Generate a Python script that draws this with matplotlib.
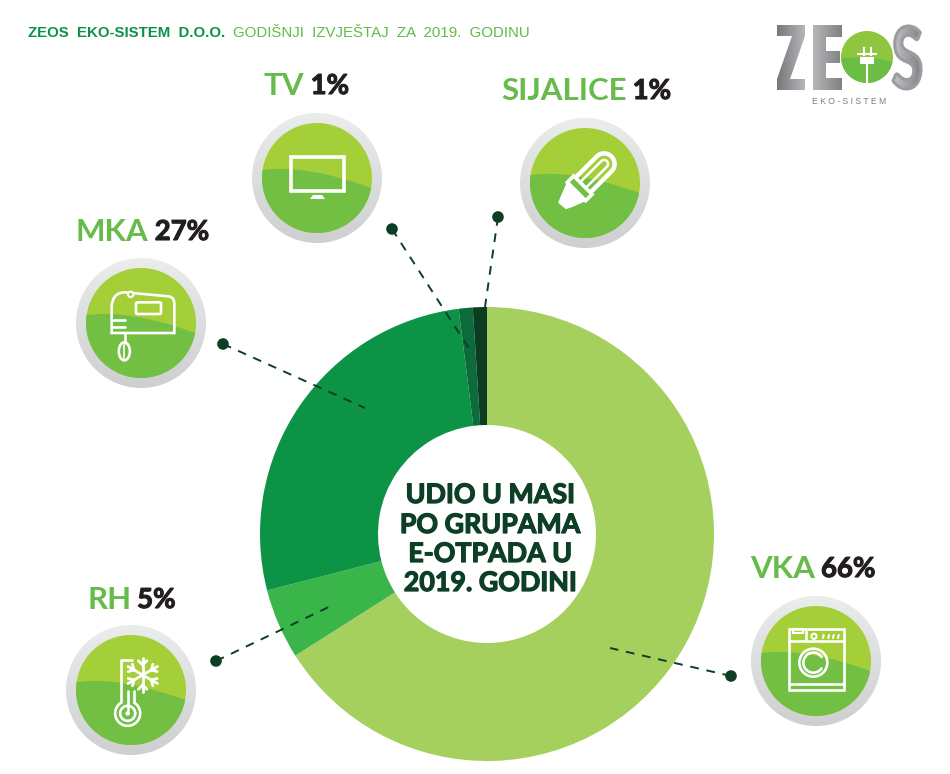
import numpy as np
import matplotlib
matplotlib.use('Agg')
import matplotlib.pyplot as plt
import matplotlib.patheffects as pe
from matplotlib.patches import Circle, Ellipse, PathPatch, Rectangle, FancyBboxPatch, Polygon
from matplotlib.path import Path
from matplotlib.textpath import TextPath
from matplotlib.font_manager import FontProperties
from matplotlib.transforms import Affine2D

# udio u masi, redom od vrha u smjeru kazaljke
grupe = ['VKA', 'RH', 'MKA', 'TV', 'SIJALICE']
udio = [66, 5, 27, 1, 1]
boje = ['#a6d05e', '#39b54a', '#0c9346', '#0b6b3a', '#0a3d22']
naslov_bold = 'ZEOS  EKO-SISTEM  D.O.O.'
naslov_reg = 'GODIŠNJI  IZVJEŠTAJ  ZA  2019.  GODINU'
centar_tekst = ['UDIO U MASI', 'PO GRUPAMA', 'E-OTPADA U', '2019. GODINI']

W, H = 950, 774
TAMNA = '#0d3f26'
ZELENA = '#66bb4a'
CRNA = '#231f20'

fig = plt.figure(figsize=(W / 100, H / 100), dpi=100, facecolor='white')

# prsten, polozaj u pikselima
cx, cy, R = 487, 534, 227
ax_pie = fig.add_axes([(cx - R) / W, 1 - (cy + R) / H, 2 * R / W, 2 * R / H])
ax_pie.pie(udio, colors=boje, startangle=90, counterclock=False, radius=1,
           wedgeprops=dict(width=1 - 109 / 227, linewidth=0))
ax_pie.set_xlim(-1, 1)
ax_pie.set_ylim(-1, 1)
ax_pie.set_axis_off()

# sve ostalo ide na providni sloj u pikselima (y prema dolje)
ax = fig.add_axes([0, 0, 1, 1], facecolor='none')
ax.set_axis_off()
ax.set_xlim(0, W)
ax.set_ylim(H, 0)
ax.autoscale(False)


def gradijent(x0, y0, x1, y1, c_a, c_b, clip, smjer='v'):
    n = 64
    a = np.array(matplotlib.colors.to_rgb(c_a))
    b = np.array(matplotlib.colors.to_rgb(c_b))
    t = np.linspace(0, 1, n)[:, None]
    img = a * (1 - t) + b * t
    img = img[:, None, :] if smjer == 'v' else img[None, :, :]
    im = ax.imshow(img, extent=(x0, x1, y1, y0), aspect='auto', zorder=2, interpolation='bilinear')
    im.set_clip_path(clip)


def bedz(x, y, r_out=65, r_in=55):
    krug = Circle((x, y), r_out, transform=ax.transData)
    gradijent(x - r_out, y - r_out, x + r_out, y + r_out, '#ebecec', '#cdcfd1', krug)
    ax.add_patch(Circle((x, y), r_in, fc='#a5cf38', ec='none', zorder=3))
    # donji, tamniji dio kruga sa zakrivljenom granicom
    s = r_in / 55
    verts = [(x - 60 * s, y - 7 * s), (x - 15 * s, y - 16 * s), (x + 60 * s, y + 12 * s),
             (x + 60 * s, y + 60 * s), (x - 60 * s, y + 60 * s), (x - 60 * s, y - 7 * s)]
    codes = [Path.MOVETO, Path.CURVE3, Path.CURVE3, Path.LINETO, Path.LINETO, Path.CLOSEPOLY]
    donji = PathPatch(Path(verts, codes), fc='#72bf44', ec='none', zorder=4)
    ax.add_patch(donji)
    donji.set_clip_path(Circle((x, y), r_in, transform=ax.transData))


def linija(xs, ys, lw=1.9):
    ax.plot(xs, ys, color='white', lw=lw, zorder=6, solid_capstyle='round', solid_joinstyle='round')


def okvir(x0, y0, x1, y1, lw=1.9, fc='none'):
    ax.add_patch(Rectangle((x0, y0), x1 - x0, y1 - y0, fc=fc, ec='white', lw=lw, zorder=6))


def ikona_tv(x, y):
    okvir(x - 26, y - 21, x + 27, y + 13, lw=2.6)
    ax.add_patch(Polygon([(x - 7, y + 21), (x - 4, y + 17), (x + 5, y + 17), (x + 8, y + 21)],
                         fc='white', ec='none', zorder=6))


def ikona_sijalica(x, y):
    rot = Affine2D().rotate_deg(-45).translate(x, y) + ax.transData
    # dvije cijevi
    for v0, v1, debljina in [(-10.5, 10.5, 3.2), (-4, 4, 1.8)]:
        t = np.linspace(-np.pi / 2, np.pi / 2, 20)
        u = np.r_[-2, 27 + (v1 - v0) / 2 * np.cos(t), -2]
        v = np.r_[v0, (v0 + v1) / 2 + (v1 - v0) / 2 * np.sin(t), v1]
        ax.plot(u, v, color='white', lw=debljina, zorder=6, transform=rot)
    ax.add_patch(Polygon([(-12, -13), (-3, -13), (-3, 13), (-12, 13)], fc='#72bf44', ec='white',
                         lw=2.6, zorder=6, transform=rot))
    ax.add_patch(Polygon([(-13, -13), (-13, 13), (-26, 8), (-32, 5), (-33, -5), (-26, -8)],
                         fc='white', ec='none', zorder=6, transform=rot))


def ikona_mikser(x, y):
    px = lambda a: x + (a - 243) / 3
    py = lambda b: y + (b - 370) / 3
    verts = [(px(155), py(400)), (px(155), py(320)), (px(158), py(278)), (px(195), py(278)),
             (px(325), py(290)), (px(343), py(292)), (px(343), py(312)),
             (px(343), py(400)), (px(155), py(400))]
    codes = [Path.MOVETO, Path.LINETO, Path.CURVE3, Path.CURVE3, Path.LINETO, Path.CURVE3,
             Path.CURVE3, Path.LINETO, Path.CLOSEPOLY]
    ax.add_patch(PathPatch(Path(verts, codes), fc='none', ec='white', lw=1.9, zorder=6))
    ax.add_patch(FancyBboxPatch((px(228), py(308)), 75 / 3, 35 / 3, boxstyle='round,pad=0,rounding_size=1.5',
                                fc='none', ec='white', lw=1.9, zorder=6))
    linija([px(155), px(195)], [py(362), py(362)])
    linija([px(155), px(195)], [py(382), py(382)])
    linija([px(195), px(195)], [py(400), py(430)])
    ax.add_patch(Ellipse((px(193), py(455)), 11, 18, fc='none', ec='white', lw=1.9, zorder=6))
    linija([px(193), px(193)], [py(435), py(475)], lw=1.2)
    ax.add_patch(Circle((px(212), py(284)), 2.7, fc='#a5cf38', ec='white', lw=1.5, zorder=6))


def ikona_frizider(x, y):
    px = lambda a: x + (a - 243) / 3
    py = lambda b: y + (b - 360) / 3
    bx, by = px(233), py(430)
    t = np.radians(np.linspace(-58, 238, 60))
    linija(bx + 12.5 * np.cos(t), by + 12.5 * np.sin(t))
    t2 = np.radians(np.linspace(0, 360, 60))
    linija(bx + 7.5 * np.cos(t2), by + 7.5 * np.sin(t2))
    ax.add_patch(Circle((bx, by), 2.3, fc='white', ec='none', zorder=6))
    linija([px(212), px(212), px(245)], [py(397), py(270), py(270)])
    linija([px(252), px(252)], [py(397), py(362)])
    linija([bx, bx], [by - 3, py(362)])
    # pahulja
    sx, sy = px(278), py(315)
    for ugao in range(0, 360, 60):
        c, s = np.cos(np.radians(ugao + 90)), np.sin(np.radians(ugao + 90))
        linija([sx, sx + 17 * c], [sy, sy + 17 * s], lw=2)
        for d in (-1, 1):
            c2, s2 = np.cos(np.radians(ugao + 90 + d * 45)), np.sin(np.radians(ugao + 90 + d * 45))
            linija([sx + 10 * c, sx + 10 * c + 6 * c2], [sy + 10 * s, sy + 10 * s + 6 * s2], lw=2)


def ikona_masina(x, y):
    px = lambda a: x + (a - 258) / 3
    py = lambda b: y + (b - 362) / 3
    okvir(px(178), py(267), px(343), py(450))
    linija([px(178), px(343)], [py(302), py(302)])
    linija([px(228), px(228)], [py(267), py(302)])
    okvir(px(190), py(267), px(218), py(277), lw=1.5)
    ax.add_patch(Circle((px(252), py(288)), 2.6, fc='none', ec='white', lw=1.5, zorder=6))
    for d in (280, 296, 310, 325):
        linija([px(d - 1), px(d + 1)], [py(293), py(284)], lw=1.5)
    ax.add_patch(Circle((px(250), py(367)), 14, fc='none', ec='white', lw=1.9, zorder=6))
    t = np.radians(np.linspace(35, 325, 40))
    linija(px(250) + 10 * np.cos(t), py(367) + 10 * np.sin(t))
    linija([px(178), px(343)], [py(432), py(432)])


def natpis(x, y, ime, broj, size=22.5):
    t = ax.text(x, y, ime, color=ZELENA, fontsize=size, family='Lato', fontweight='bold',
                va='center', ha='left', zorder=7)
    bb = t.get_window_extent(fig.canvas.get_renderer())
    n = ax.text(bb.x1 + 6, y, broj, color=CRNA, fontsize=size - 2.7, family='Lato', fontweight='bold',
                va='center', ha='left', zorder=7)
    n.set_path_effects([pe.withStroke(linewidth=0.8, foreground=CRNA)])


def maska(put, x0, y0, x1, y1, c_a, c_b):
    # sivi gradijent odsjecen po obliku slova
    patch = PathPatch(put, fc='none', ec='none', transform=ax.transData)
    ax.add_patch(patch)
    gradijent(x0, y0, x1, y1, c_a, c_b, patch, smjer='h')


# bedzevi
polozaji = {'TV': (317, 178), 'SIJALICE': (585, 183), 'MKA': (141, 323), 'RH': (131, 690), 'VKA': (816, 661)}
ikone = {'TV': ikona_tv, 'SIJALICE': ikona_sijalica, 'MKA': ikona_mikser, 'RH': ikona_frizider, 'VKA': ikona_masina}
for g in grupe:
    bedz(*polozaji[g])
    ikone[g](*polozaji[g])

# natpisi
nat_poz = {'TV': (264, 86), 'SIJALICE': (501, 91), 'MKA': (76, 232), 'RH': (87, 600), 'VKA': (750, 569)}
for g, u in zip(grupe, udio):
    natpis(nat_poz[g][0], nat_poz[g][1], g, f'{u}%')

# isprekidane linije s tackom
linije = {'TV': ((392, 229), (470, 350)), 'SIJALICE': ((498, 217), (485, 307)), 'MKA': ((223, 344), (365, 408)),
          'RH': ((216, 661), (335, 604)), 'VKA': ((731, 676), (610, 648))}
for g in grupe:
    (x0, y0), (x1, y1) = linije[g]
    ax.plot([x0, x1], [y0, y1], color=TAMNA, lw=1.4, dashes=(4.5, 4), zorder=5)
    ax.add_patch(Circle((x0, y0), 5.8, fc=TAMNA, ec='none', zorder=5))

# tekst u sredini
for red, yy in zip(centar_tekst, [495, 525, 554, 583]):
    c = ax.text(490, yy, red, color=TAMNA, fontsize=19.3, family='Lato', fontweight='bold',
                ha='center', va='center', zorder=7)
    c.set_path_effects([pe.withStroke(linewidth=0.9, foreground=TAMNA)])

# zaglavlje
t1 = ax.text(28, 33, naslov_bold, color='#0b9247', fontsize=10.8, family='Liberation Sans',
             fontweight='bold', va='center', ha='left')
bb1 = t1.get_window_extent(fig.canvas.get_renderer())
ax.text(bb1.x1 + 8, 33, naslov_reg, color='#62bb46', fontsize=10.8, family='Liberation Sans',
        va='center', ha='left')

# logo: Z i E su prosti poligoni, S iz fonta
z_put = Path([(777, 25), (805, 25), (805, 36), (790, 79), (805, 79), (805, 90), (777, 90), (777, 79), (792, 36), (777, 36), (777, 25)])
e_put = Path([(813, 25), (842, 25), (842, 37), (826, 37), (826, 51), (840, 51), (840, 63), (826, 63), (826, 78), (842, 78), (842, 90), (813, 90), (813, 25)])
maska(z_put, 777, 25, 805, 90, '#77787b', '#b5b6b8')
maska(e_put, 813, 25, 842, 90, '#b5b6b8', '#808184')
tp = TextPath((0, 0), 'S', size=100, prop=FontProperties(family='Lato', weight='bold'))
bs = tp.get_extents()
s_tr = Affine2D().translate(-bs.x0, -bs.y0).scale(28 / bs.width, -63 / bs.height).translate(893, 89)
s_put = s_tr.transform_path(tp)
maska(s_put, 892, 25, 922, 90, '#c4c5c7', '#808184')
ax.add_patch(PathPatch(s_put, fc='none', ec='#9b9c9f', lw=2.2, zorder=3))

lx, ly, lr = 867, 57, 26
ax.add_patch(Circle((lx, ly), lr, fc='#8fc640', ec='none', zorder=3))
donji = PathPatch(Path([(lx - 30, ly + 2), (lx, ly - 3), (lx + 30, ly + 6), (lx + 30, ly + 30), (lx - 30, ly + 30), (lx - 30, ly + 2)],
                       [Path.MOVETO, Path.CURVE3, Path.CURVE3, Path.LINETO, Path.LINETO, Path.CLOSEPOLY]),
                  fc='#6cbd45', ec='none', zorder=4)
ax.add_patch(donji)
donji.set_clip_path(Circle((lx, ly), lr, transform=ax.transData))
for dx in (-3.5, 3.5):
    ax.plot([lx + dx, lx + dx], [ly - 9, ly - 2], color='white', lw=1.5, zorder=6)
ax.plot([lx - 9, lx + 9], [ly - 3, ly - 3], color='white', lw=1.5, zorder=6)
ax.add_patch(Rectangle((lx - 7, ly), 14, 7, fc='white', ec='none', zorder=6))
ax.plot([lx, lx], [ly + 7, ly + 26], color='white', lw=1.5, zorder=6)
ax.text(849, 102, 'E K O - S I S T E M', color='#7c7d80', fontsize=6.2, family='Liberation Sans',
        ha='center', va='center')

fig.savefig('out.png', dpi=100)
